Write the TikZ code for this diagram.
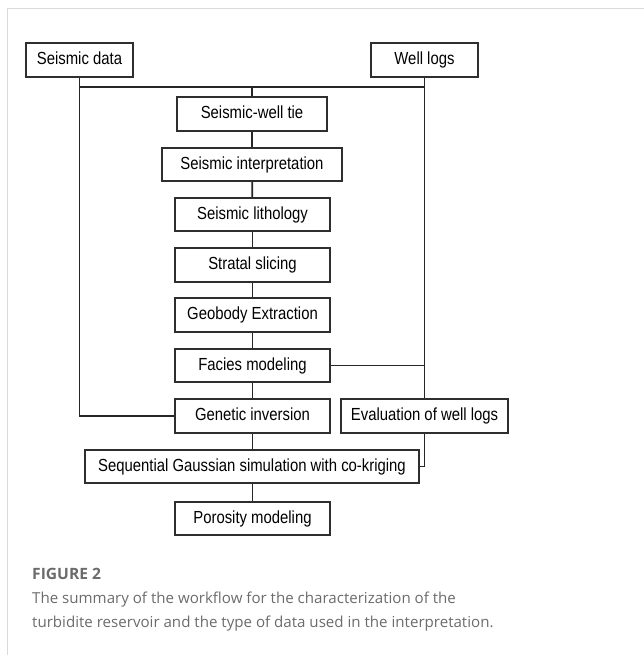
\documentclass[tikz,border=0pt]{standalone}
\usepackage{fontspec}
\setmainfont{Liberation Sans}
\newfontfamily\boxfont[FakeStretch=0.85]{Liberation Sans}
\newfontfamily\capfont{Open Sans}
\definecolor{capgray}{HTML}{6B6B6B}
\definecolor{framegray}{HTML}{DADADA}
\definecolor{boxline}{HTML}{2E2E2E}
\tikzset{
  flowbox/.style={draw=boxline, line width=1.2pt, rectangle, inner sep=0pt,
    text height=12.6pt, text depth=3.6pt,
    font=\boxfont\fontsize{17.5}{20}\selectfont, text=black},
  link/.style={draw=black!85, line width=1.7pt},
}
\begin{document}
\begin{tikzpicture}[x=1pt,y=-1pt]
\useasboundingbox (0,0) rectangle (644,655);
% frame
\draw[framegray, line width=1pt] (644,9) -- (7,9) -- (7,655);
% boxes
\node[flowbox, minimum width=107pt, minimum height=34pt] (sd) at (79.5,60) {Seismic data};
\node[flowbox, minimum width=107pt, minimum height=34pt] (wl) at (424.5,60) {Well logs};
\node[flowbox, minimum width=150pt, minimum height=34pt] (tie) at (252,114) {Seismic-well tie};
\node[flowbox, minimum width=180pt, minimum height=33pt] (interp) at (252,164.5) {Seismic interpretation};
\node[flowbox, minimum width=155pt, minimum height=33pt] (litho) at (252.5,214.5) {Seismic lithology};
\node[flowbox, minimum width=155pt, minimum height=34pt] (strat) at (252.5,265) {Stratal slicing};
\node[flowbox, minimum width=155pt, minimum height=34pt] (geo) at (252.5,315) {Geobody Extraction};
\node[flowbox, minimum width=155pt, minimum height=33pt] (facies) at (252.5,365.5) {Facies modeling};
\node[flowbox, minimum width=155pt, minimum height=34pt] (gen) at (252.5,416) {Genetic inversion};
\node[flowbox, minimum width=167pt, minimum height=34pt] (eval) at (424.5,416) {Evaluation of well logs};
\node[flowbox, minimum width=334pt, minimum height=33pt] (sgs) at (252,466.5) {Sequential Gaussian simulation with co-kriging};
\node[flowbox, minimum width=155pt, minimum height=33pt] (por) at (252.5,518.5) {Porosity modeling};
% junctions
\coordinate (jm) at (252,87);
\coordinate (jl) at (sd.south |- jm);
\coordinate (jr) at (wl.south |- jm);
% connectors
\draw[link] (sd.south) |- (gen.west);
\draw[link] (jl) -- (jr);
\draw[link] (wl.south) -- (eval.north);
\draw[link] (tie.north) -- (jm);
\draw[link] (tie) -- (interp);
\draw[link] (interp) -- (litho);
\draw[link] (litho) -- (strat);
\draw[link] (strat) -- (geo);
\draw[link] (geo) -- (facies);
\draw[link] (facies) -- (gen);
\draw[link] (facies.east) -- (facies.east -| wl.south);
\draw[link] (eval.south) |- (sgs.east);
\draw[link] (gen.south) -- (gen.south |- sgs.north);
\draw[link] (sgs.south -| por.north) -- (por.north);
% caption
\node[anchor=base west, inner sep=0pt, text=capgray, font=\capfont\bfseries\fontsize{15.6}{20}\selectfont] (fig) at (32,579) {FIGURE 2};
\node[anchor=base west, inner sep=0pt, text=capgray, font=\capfont\fontsize{15.1}{24}\selectfont] (cap1) at (32,603) {The summary of the workflow for the characterization of the};
\node[anchor=base west, inner sep=0pt, text=capgray, font=\capfont\fontsize{15.1}{24}\selectfont] (cap2) at (32,627) {turbidite reservoir and the type of data used in the interpretation.};
\end{tikzpicture}
\end{document}
